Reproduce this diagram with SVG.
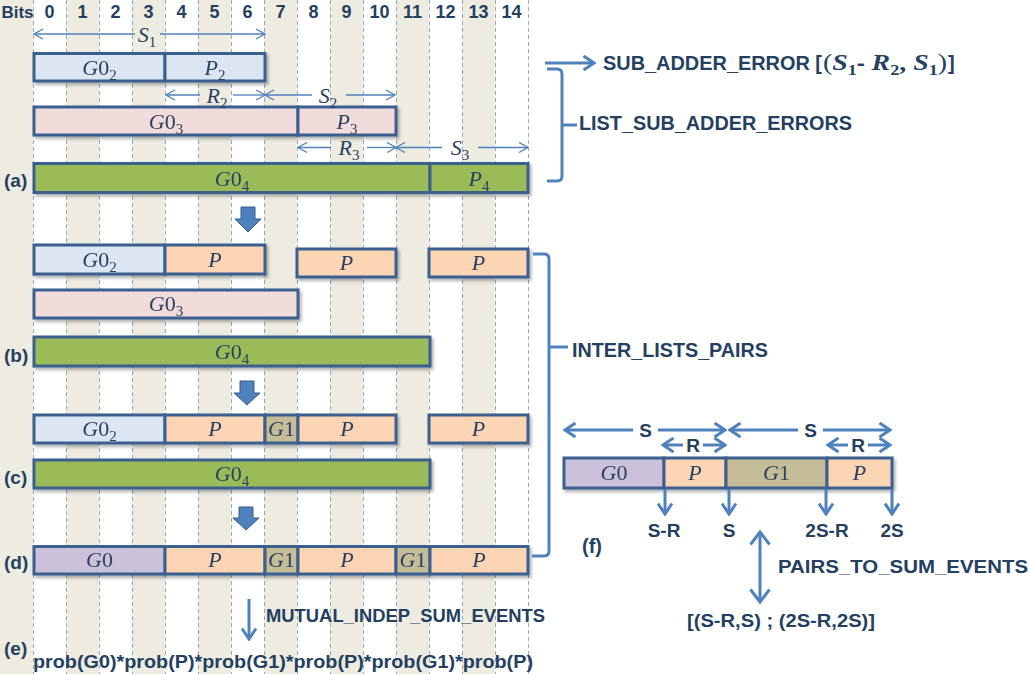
<svg xmlns="http://www.w3.org/2000/svg" width="1030" height="674" viewBox="0 0 1030 674">
<style>
.lbl{font-family:"Liberation Sans",Arial,sans-serif;font-weight:bold;fill:#243F60}
.hd{font-size:18px;text-anchor:middle}
.mi{font-family:"Liberation Serif","Times New Roman",serif;font-style:italic;font-size:22px;fill:#2A4060;text-anchor:middle}
.up{font-style:normal}
.sb{font-size:15px;font-style:normal}
.bx{stroke:#3A5F8E;stroke-width:3}
.blue{fill:#DCE6F2}.pink{fill:#F2DCDB}.green{fill:#9BBB59}.org{fill:#FCD5B5}.khk{fill:#C4BD97}.pur{fill:#CCC1DA}
.thin{stroke:#4F81BD;stroke-width:1.3;fill:none}
.thick{stroke:#4F81BD;stroke-width:3;fill:none}
.blk{fill:#4F81BD;stroke:#385D8A;stroke-width:1}
.grid{stroke:#7F93B0;stroke-width:0.8;stroke-dasharray:4 3}
.strp{fill:#EEECE1}
.ms{font-family:"Liberation Serif","Times New Roman",serif;font-weight:bold;fill:#243F60}
</style>
<defs>
<marker id="thn" viewBox="0 0 11 12" refX="10" refY="6" markerWidth="11" markerHeight="12" markerUnits="userSpaceOnUse" orient="auto-start-reverse"><path d="M1,1 L10,6 L1,11" fill="none" stroke="#4F81BD" stroke-width="1.3"/></marker>
<marker id="thk" viewBox="0 0 14 17" refX="12" refY="8.5" markerWidth="14" markerHeight="17" markerUnits="userSpaceOnUse" orient="auto-start-reverse"><path d="M1.5,1.5 L12,8.5 L1.5,15.5" fill="none" stroke="#4F81BD" stroke-width="3"/></marker>
<marker id="thkL" viewBox="0 0 16 22" refX="14" refY="11" markerWidth="16" markerHeight="22" markerUnits="userSpaceOnUse" orient="auto-start-reverse"><path d="M1.5,1.5 L14,11 L1.5,20.5" fill="none" stroke="#4F81BD" stroke-width="3"/></marker>
<filter id="sh" x="-5%" y="-30%" width="115%" height="180%"><feDropShadow dx="2" dy="2.5" stdDeviation="1.5" flood-color="#000" flood-opacity="0.3"/></filter>
</defs>
<rect width="1030" height="674" fill="#fff"/>
<g id="grid">
<rect class="strp" x="0" y="0" width="33" height="674"/>
<rect class="strp" x="66" y="0" width="33" height="674"/>
<rect class="strp" x="132" y="0" width="33" height="674"/>
<rect class="strp" x="198" y="0" width="33" height="674"/>
<rect class="strp" x="264" y="0" width="33" height="674"/>
<rect class="strp" x="330" y="0" width="33" height="674"/>
<rect class="strp" x="396" y="0" width="33" height="674"/>
<rect class="strp" x="462" y="0" width="33" height="674"/>
<path class="grid" d="M33.5,0V674M66.5,0V674M99.5,0V674M132.5,0V674M165.5,0V674M198.5,0V674M231.5,0V674M264.5,0V674M297.5,0V674M330.5,0V674M363.5,0V674M396.5,0V674M429.5,0V674M462.5,0V674M495.5,0V674M528.5,0V674"/>
</g>
<g id="header" class="lbl hd">
<text x="17.5" y="18" font-size="17">Bits</text>
<text x="49.5" y="18">0</text><text x="82.5" y="18">1</text><text x="115.5" y="18">2</text><text x="148.5" y="18">3</text><text x="181.5" y="18">4</text><text x="214.5" y="18">5</text><text x="247.5" y="18">6</text><text x="280.5" y="18">7</text><text x="313.5" y="18">8</text><text x="346.5" y="18">9</text><text x="379.5" y="18">10</text><text x="412.5" y="18">11</text><text x="445.5" y="18">12</text><text x="478.5" y="18">13</text><text x="511.5" y="18">14</text>
</g>
<g id="row-labels" class="lbl" font-size="19">
<text x="4" y="187">(a)</text>
<text x="4" y="362">(b)</text>
<text x="4" y="484">(c)</text>
<text x="4" y="569">(d)</text>
<text x="4" y="655">(e)</text>
<text x="582" y="553" font-size="20">(f)</text>
</g>
<g id="row-a1" filter="url(#sh)">
<rect class="bx blue" x="34" y="53.5" width="131" height="27.5"/><rect class="bx blue" x="165" y="53.5" width="100" height="27.5"/>
<text class="mi" x="99.5" y="75">G<tspan class="up">0</tspan><tspan class="sb" dy="5">2</tspan></text>
<text class="mi" x="215" y="75">P<tspan class="sb" dy="5">2</tspan></text>
</g>
<g id="row-a2" filter="url(#sh)">
<rect class="bx pink" x="34" y="107" width="264" height="28"/><rect class="bx pink" x="298" y="107" width="98" height="28"/>
<text class="mi" x="166" y="128.5">G<tspan class="up">0</tspan><tspan class="sb" dy="5">3</tspan></text>
<text class="mi" x="347" y="128.5">P<tspan class="sb" dy="5">3</tspan></text>
</g>
<g id="row-a3" filter="url(#sh)">
<rect class="bx green" x="34" y="163.5" width="396" height="29"/><rect class="bx green" x="430" y="163.5" width="98" height="29"/>
<text class="mi" x="232" y="186">G<tspan class="up">0</tspan><tspan class="sb" dy="5">4</tspan></text>
<text class="mi" x="479" y="186">P<tspan class="sb" dy="5">4</tspan></text>
</g>
<g id="row-b1" filter="url(#sh)">
<rect class="bx blue" x="34" y="245" width="131" height="29"/><rect class="bx org" x="165" y="245" width="100" height="29"/>
<rect class="bx org" x="297" y="249" width="99" height="28"/><rect class="bx org" x="429" y="249" width="99" height="28"/>
<text class="mi" x="99.5" y="267">G<tspan class="up">0</tspan><tspan class="sb" dy="5">2</tspan></text>
<text class="mi" x="215" y="267">P</text>
<text class="mi" x="346.5" y="270">P</text>
<text class="mi" x="478.5" y="270">P</text>
</g>
<g id="row-b2" filter="url(#sh)">
<rect class="bx pink" x="34" y="290" width="264" height="28"/>
<text class="mi" x="166" y="311">G<tspan class="up">0</tspan><tspan class="sb" dy="5">3</tspan></text>
</g>
<g id="row-b3" filter="url(#sh)">
<rect class="bx green" x="34" y="337" width="396" height="29"/>
<text class="mi" x="232" y="359">G<tspan class="up">0</tspan><tspan class="sb" dy="5">4</tspan></text>
</g>
<g id="row-c1" filter="url(#sh)">
<rect class="bx blue" x="34" y="415" width="131" height="28"/><rect class="bx org" x="165" y="415" width="100" height="28"/><rect class="bx khk" x="265" y="415" width="33" height="28"/><rect class="bx org" x="298" y="415" width="98" height="28"/>
<rect class="bx org" x="429" y="415" width="99" height="28"/>
<text class="mi" x="99.5" y="436">G<tspan class="up">0</tspan><tspan class="sb" dy="5">2</tspan></text>
<text class="mi" x="215" y="436">P</text>
<text class="mi" x="281.5" y="436">G<tspan class="up">1</tspan></text>
<text class="mi" x="347" y="436">P</text>
<text class="mi" x="478.5" y="436">P</text>
</g>
<g id="row-c2" filter="url(#sh)">
<rect class="bx green" x="34" y="460" width="396" height="28"/>
<text class="mi" x="232" y="481">G<tspan class="up">0</tspan><tspan class="sb" dy="5">4</tspan></text>
</g>
<g id="row-d" filter="url(#sh)">
<rect class="bx pur" x="34" y="546.5" width="131" height="27.5"/><rect class="bx org" x="165" y="546.5" width="100" height="27.5"/><rect class="bx khk" x="265" y="546.5" width="33" height="27.5"/><rect class="bx org" x="298" y="546.5" width="98" height="27.5"/><rect class="bx khk" x="396" y="546.5" width="34" height="27.5"/><rect class="bx org" x="430" y="546.5" width="98" height="27.5"/>
<text class="mi" x="99.5" y="567">G<tspan class="up">0</tspan></text>
<text class="mi" x="215" y="567">P</text>
<text class="mi" x="281.5" y="567">G<tspan class="up">1</tspan></text>
<text class="mi" x="347" y="567">P</text>
<text class="mi" x="413" y="567">G<tspan class="up">1</tspan></text>
<text class="mi" x="479" y="567">P</text>
</g>
<g id="row-f" filter="url(#sh)">
<rect class="bx pur" x="564" y="458" width="100" height="30"/><rect class="bx org" x="664" y="458" width="62" height="30"/><rect class="bx khk" x="726" y="458" width="101" height="30"/><rect class="bx org" x="827" y="458" width="65" height="30"/>
<text class="mi" x="614" y="480">G<tspan class="up">0</tspan></text>
<text class="mi" x="695" y="480">P</text>
<text class="mi" x="776.5" y="480">G<tspan class="up">1</tspan></text>
<text class="mi" x="859.5" y="480">P</text>
</g>
<g id="connectors">
<line class="thin" x1="34" y1="34" x2="135" y2="34" marker-start="url(#thn)"/><line class="thin" x1="160" y1="34" x2="265" y2="34" marker-end="url(#thn)"/>
<line class="thin" x1="166" y1="95" x2="200" y2="95" marker-start="url(#thn)"/><line class="thin" x1="233" y1="95" x2="265" y2="95" marker-end="url(#thn)"/>
<line class="thin" x1="265" y1="95" x2="312" y2="95" marker-start="url(#thn)"/><line class="thin" x1="346" y1="95" x2="395" y2="95" marker-end="url(#thn)"/>
<line class="thin" x1="298" y1="147.5" x2="331" y2="147.5" marker-start="url(#thn)"/><line class="thin" x1="367" y1="147.5" x2="396" y2="147.5" marker-end="url(#thn)"/>
<line class="thin" x1="396" y1="147.5" x2="442" y2="147.5" marker-start="url(#thn)"/><line class="thin" x1="478" y1="147.5" x2="528" y2="147.5" marker-end="url(#thn)"/>
<polygon class="blk" points="241,207 255,207 255,219 261,219 248,232 235,219 241,219"/>
<polygon class="blk" points="240,381 254,381 254,393 260,393 247,405 234,393 240,393"/>
<polygon class="blk" points="239,507 253,507 253,518 259,518 246,530 233,518 239,518"/>
<line class="thick" x1="249" y1="599" x2="249" y2="639" marker-end="url(#thk)"/>
<line class="thick" x1="545" y1="63" x2="594" y2="63" marker-end="url(#thk)"/>
<path class="thick" d="M547,69 H557 Q562,69 562,74 V176 Q562,181 557,181 H547 M562,125 H577"/>
<path class="thick" d="M533,254 H544 Q549,254 549,259 V551 Q549,556 544,556 H532 M549,347 H568"/>
<line class="thick" x1="565" y1="430" x2="633" y2="430" marker-start="url(#thk)"/><line class="thick" x1="658" y1="430" x2="725" y2="430" marker-end="url(#thk)"/>
<line class="thick" x1="730" y1="430" x2="798" y2="430" marker-start="url(#thk)"/><line class="thick" x1="823" y1="430" x2="890" y2="430" marker-end="url(#thk)"/>
<line class="thick" x1="663" y1="445" x2="683" y2="445" marker-start="url(#thk)"/><line class="thick" x1="703" y1="445" x2="725" y2="445" marker-end="url(#thk)"/>
<line class="thick" x1="828" y1="445" x2="848" y2="445" marker-start="url(#thk)"/><line class="thick" x1="868" y1="445" x2="890" y2="445" marker-end="url(#thk)"/>
<line class="thick" x1="665" y1="489" x2="665" y2="514" marker-end="url(#thk)"/>
<line class="thick" x1="729" y1="489" x2="729" y2="514" marker-end="url(#thk)"/>
<line class="thick" x1="826" y1="489" x2="826" y2="514" marker-end="url(#thk)"/>
<line class="thick" x1="892" y1="489" x2="892" y2="514" marker-end="url(#thk)"/>
<line class="thick" x1="760" y1="532" x2="760" y2="602" marker-start="url(#thkL)" marker-end="url(#thkL)"/>
</g>
<g id="arrow-labels">
<text class="mi" x="147" y="41.5" font-size="20">S<tspan class="sb" dy="5">1</tspan></text>
<text class="mi" x="217" y="102.5" font-size="20">R<tspan class="sb" dy="5">2</tspan></text>
<text class="mi" x="328" y="102.5" font-size="20">S<tspan class="sb" dy="5">2</tspan></text>
<text class="mi" x="349" y="155" font-size="20">R<tspan class="sb" dy="5">3</tspan></text>
<text class="mi" x="460" y="155" font-size="20">S<tspan class="sb" dy="5">3</tspan></text>
<g class="lbl" font-size="19" text-anchor="middle">
<text x="645.5" y="437">S</text><text x="810.5" y="437">S</text>
<text x="693" y="452">R</text><text x="858" y="452">R</text>
</g>
<g class="lbl" font-size="19" text-anchor="middle">
<text x="664" y="537">S-R</text><text x="729" y="537">S</text><text x="827" y="537">2S-R</text><text x="892" y="537">2S</text>
</g>
</g>
<g id="texts" class="lbl">
<text x="603" y="69.5" font-size="20" textLength="219" lengthAdjust="spacingAndGlyphs">SUB_ADDER_ERROR [</text>
<text class="ms" x="823" y="69.5" font-size="23" textLength="124" lengthAdjust="spacingAndGlyphs"><tspan font-weight="normal">(</tspan><tspan font-style="italic">S</tspan><tspan font-size="15" dy="5">1</tspan><tspan font-family="Liberation Sans, sans-serif" font-size="20" dy="-5">- </tspan><tspan font-style="italic">R</tspan><tspan font-size="15" dy="5">2</tspan><tspan dy="-5">, </tspan><tspan font-style="italic">S</tspan><tspan font-size="15" dy="5">1</tspan><tspan font-weight="normal" dy="-5">)</tspan></text>
<text x="948" y="69.5" font-size="20">]</text>
<text x="579" y="130" font-size="20" textLength="273" lengthAdjust="spacingAndGlyphs">LIST_SUB_ADDER_ERRORS</text>
<text x="572" y="357" font-size="20" textLength="196" lengthAdjust="spacingAndGlyphs">INTER_LISTS_PAIRS</text>
<text x="266" y="622" font-size="19" textLength="279" lengthAdjust="spacingAndGlyphs">MUTUAL_INDEP_SUM_EVENTS</text>
<text x="33" y="668" font-size="19" textLength="500" lengthAdjust="spacingAndGlyphs">prob(G0)*prob(P)*prob(G1)*prob(P)*prob(G1)*prob(P)</text>
<text x="778" y="573" font-size="19" textLength="250" lengthAdjust="spacingAndGlyphs">PAIRS_TO_SUM_EVENTS</text>
<text x="687" y="627" font-size="19" textLength="188" lengthAdjust="spacingAndGlyphs">[(S-R,S) ; (2S-R,2S)]</text>
</g>
</svg>
